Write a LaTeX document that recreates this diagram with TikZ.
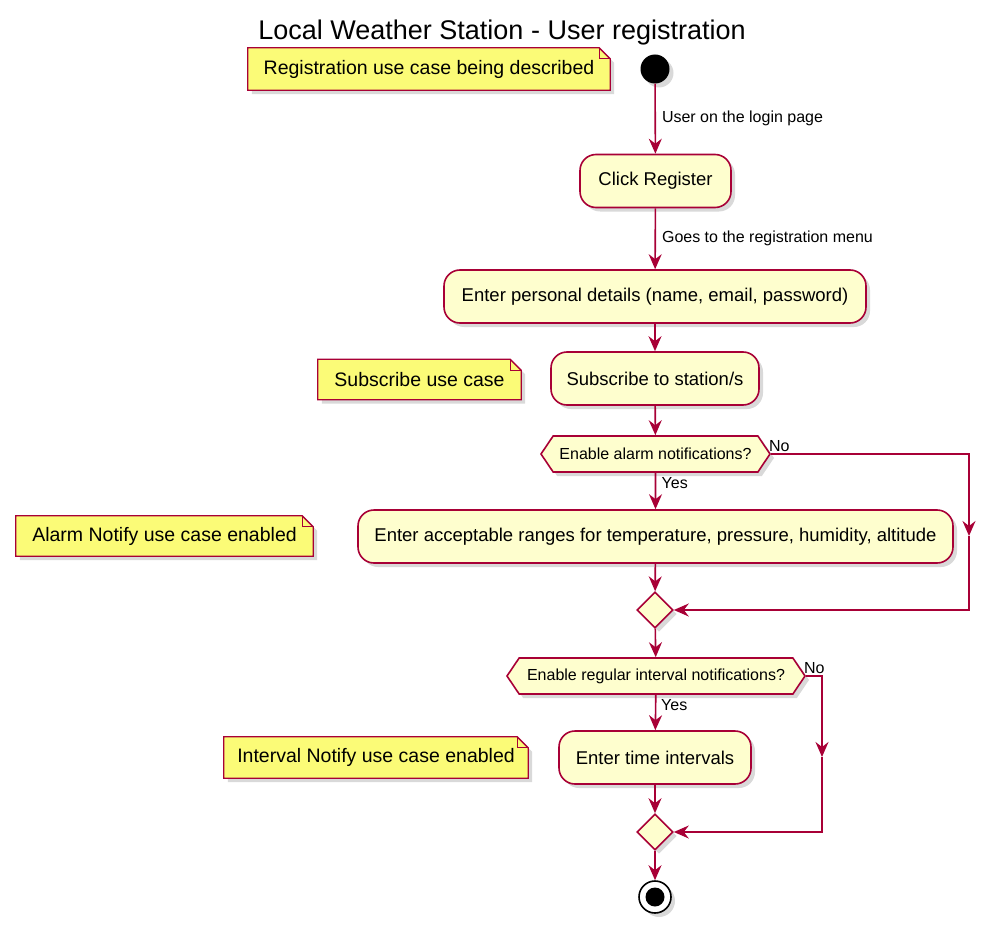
\documentclass[tikz,border=0pt]{standalone}
\usepackage{fontspec}
\setmainfont{Liberation Sans}
\usetikzlibrary{arrows.meta,shapes.geometric,shapes.symbols,shadows,backgrounds}
\definecolor{umlred}{HTML}{A80036}
\definecolor{umlfill}{HTML}{FEFECE}
\definecolor{notefill}{HTML}{FBFB77}
% paper outline with a folded corner, drawn behind a note node
\newcommand{\notepaper}[1]{%
  \begin{scope}[on background layer]
    \filldraw[notepath] (#1.south west) -- (#1.north west)
      -- ([xshift=-11pt]#1.north east) -- ([yshift=-11pt]#1.north east)
      -- (#1.south east) -- cycle;
    \draw[umlred, line width=1.3pt] ([xshift=-11pt]#1.north east)
      |- ([yshift=-11pt]#1.north east);
  \end{scope}}

\begin{document}
\begin{tikzpicture}[
        x=1pt,
        y=-1pt,
        umlshadow/.style={
            drop shadow={shadow xshift=4pt, shadow yshift=-4pt,
                opacity=.3}
        },
        activity/.style={
            draw=umlred,
            fill=umlfill,
            line width=1.6pt,
            rounded corners=16pt,
            minimum height=53pt,
            inner sep=0pt,
            font=\fontsize{18.5}{22}\selectfont,
            umlshadow
        },
        decision/.style={
            shape=signal,
            signal to=east and west,
            signal pointer angle=112,
            draw=umlred,
            fill=umlfill,
            line width=1.6pt,
            minimum height=36pt,
            inner sep=0pt,
            font=\fontsize{16}{19}\selectfont,
            umlshadow
        },
        merge/.style={
            diamond,
            aspect=1,
            draw=umlred,
            fill=umlfill,
            line width=1.6pt,
            minimum size=36pt,
            inner sep=0pt,
            umlshadow
        },
        note/.style={
            minimum height=40pt,
            inner sep=0pt,
            font=\fontsize{19.5}{23}\selectfont
        },
        notepath/.style={
            fill=notefill,
            draw=umlred,
            line width=1.3pt,
            umlshadow
        },
        flowlabel/.style={
            font=\fontsize{16}{19}\selectfont,
            inner sep=0pt
        },
        flow/.style={
            draw=umlred,
            line width=1.6pt,
            -{Stealth[length=15pt, width=13pt, inset=5pt]}
        }
    ]
        \useasboundingbox (0,0) rectangle (1006,936);

        % Title
        \node (title) at (502,33)
            {\fontsize{27}{32}\selectfont Local Weather Station - User registration};

        % Main column, x=655
        \node[circle, fill=black, minimum size=29pt, inner sep=0pt, umlshadow]
            (start) at (655,69) {};
        \node[activity, minimum width=151pt]
            (click) at (655.5,181) {Click Register};
        \node[activity, minimum width=422pt]
            (details) at (655,296.5) {Enter personal details (name, email, password)};
        \node[activity, minimum width=208pt]
            (subscribe) at (655,378.5) {Subscribe to station/s};
        \node[decision, minimum width=229pt]
            (alarm) at (655.5,454) {Enable alarm notifications?};
        \node[activity, minimum width=595pt]
            (ranges) at (655.5,536.5)
            {Enter acceptable ranges for temperature, pressure, humidity, altitude};
        \node[merge] (mergealarm) at (655,610) {};
        \node[decision, minimum width=298pt]
            (interval) at (656,676) {Enable regular interval notifications?};
        \node[activity, minimum width=192pt]
            (times) at (655,757.5) {Enter time intervals};
        \node[merge] (mergeinterval) at (655,832) {};
        \node[circle, draw=black, fill=white, line width=1.6pt,
            minimum size=32pt, inner sep=0pt, umlshadow]
            (stop) at (655,897) {};
        \node[circle, fill=black, minimum size=19pt, inner sep=0pt]
            (stopdot) at (655,897) {};

        % Notes on the left
        \node[note, minimum width=362pt, minimum height=42pt]
            (noteregister) at (429,69) {Registration use case being described\hspace{12pt}};
        \notepaper{noteregister}
        \node[note, minimum width=203pt]
            (notesubscribe) at (419.5,379.5) {Subscribe use case\hspace{12pt}};
        \notepaper{notesubscribe}
        \node[note, minimum width=297pt]
            (notealarm) at (164.5,536) {Alarm Notify use case enabled\hspace{12pt}};
        \notepaper{notealarm}
        \node[note, minimum width=304pt, minimum height=41pt]
            (noteinterval) at (376,757.5) {Interval Notify use case enabled\hspace{12pt}};
        \notepaper{noteinterval}

        % Connectors
        \draw[flow] (start) -- node[flowlabel, right=6pt] (lbllogin)
            {User on the login page} (click);
        \draw[flow] (click) -- node[flowlabel, right=6pt] (lblmenu)
            {Goes to the registration menu} (details);
        \draw[flow] (details) -- (subscribe);
        \draw[flow] (subscribe) -- (alarm);
        \draw[flow] (alarm) -- (ranges);
        \draw[flow] (ranges) -- (mergealarm);
        \draw[flow] (mergealarm) -- (interval);
        \draw[flow] (interval) -- (times);
        \draw[flow] (times) -- (mergeinterval);
        \draw[flow] (mergeinterval) -- (stop);

        \node[flowlabel, anchor=north west] (yesalarm)
            at ([xshift=6pt, yshift=-4pt]alarm.south) {Yes};
        \node[flowlabel, anchor=south west] (noalarm)
            at ([xshift=-2pt, yshift=2pt]alarm.east) {No};
        \node[flowlabel, anchor=north west] (yesinterval)
            at ([xshift=5pt, yshift=-4pt]interval.south) {Yes};
        \node[flowlabel, anchor=south west] (nointerval)
            at ([xshift=-2pt, yshift=2pt]interval.east) {No};

        % No branches on the right
        \coordinate (alarmturn) at (969,454);
        \coordinate (alarmmid) at (969,536);
        \coordinate (alarmback) at (969,610);
        \draw[flow] (alarm.east) -- (alarmturn) -- (alarmmid);
        \draw[flow] (alarmmid) -- (alarmback) -- (mergealarm);

        \coordinate (intervalturn) at (822,676);
        \coordinate (intervalmid) at (822,757);
        \coordinate (intervalback) at (822,832);
        \draw[flow] (interval.east) -- (intervalturn) -- (intervalmid);
        \draw[flow] (intervalmid) -- (intervalback) -- (mergeinterval);

    \end{tikzpicture}
\end{document}
